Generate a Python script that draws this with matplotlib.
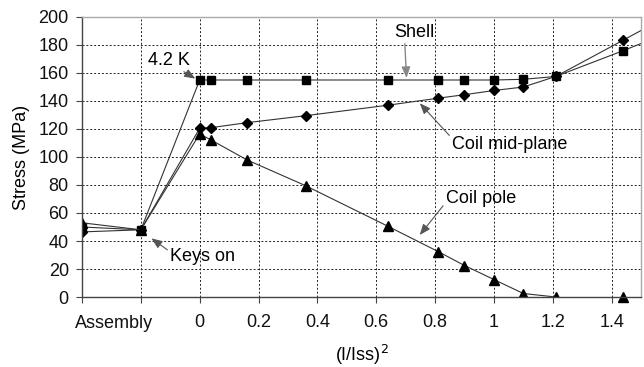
import numpy as np
import matplotlib
matplotlib.use('Agg')
import matplotlib.pyplot as plt

plt.rcParams['font.family'] = ['Liberation Sans', 'DejaVu Sans']

# x positions: -0.4 = assembly, -0.2 = keys on, then (I/Iss)^2
x_vals = [-0.4, -0.2, 0.0, 0.04, 0.16, 0.36, 0.64, 0.81, 0.9, 1.0, 1.1, 1.21, 1.44, 1.69]
shell = [50, 48, 155, 155, 155, 155, 155, 155, 155, 155, 155.5, 157.5, 176, 197]
mid_plane = [46.5, 48, 120.5, 121, 124.5, 129.5, 137, 142, 144.5, 147.5, 150, 157.5, 183.5, 212]
pole_x = [-0.4, -0.2, 0.0, 0.04, 0.16, 0.36, 0.64, 0.81, 0.9, 1.0, 1.1, 1.21]
pole = [53, 48, 116.5, 112, 98, 79.5, 50.5, 32.5, 22.5, 12.5, 2.5, 0]
pole_extra_x = [1.44]
pole_extra = [0]

x_ticks = [-0.4, -0.2, 0, 0.2, 0.4, 0.6, 0.8, 1, 1.2, 1.4]
x_tick_labels = ['', '', '0', '0.2', '0.4', '0.6', '0.8', '1', '1.2', '1.4']
y_ticks = list(range(0, 201, 20))

FS = 13

fig = plt.figure(figsize=(6.44, 3.67), dpi=100)
ax = fig.add_axes([82 / 644, 70 / 367, 559 / 644, 280 / 367])

ax.plot(x_vals, shell, marker='s', ms=6, color='#333333', lw=0.8, mfc='black', mec='black')
ax.plot(x_vals, mid_plane, marker='D', ms=5, color='#333333', lw=0.8, mfc='black', mec='black')
ax.plot(pole_x, pole, marker='^', ms=6.5, color='#333333', lw=0.8, mfc='black', mec='black')
ax.plot(pole_extra_x, pole_extra, marker='^', ms=6.5, ls='none', color='black', clip_on=False)

ax.set_xlim(-0.4, 1.5)
ax.set_ylim(0, 200)
ax.set_xticks(x_ticks)
ax.set_xticklabels(x_tick_labels)
ax.set_yticks(y_ticks)

ax.grid(True, color='#222222', ls=(0, (2, 2)), lw=0.7)
ax.set_axisbelow(True)
for s in ['left', 'bottom']:
    ax.spines[s].set_color('#444444')
    ax.spines[s].set_linewidth(1.0)
for s in ['top', 'right']:
    ax.spines[s].set_color('#aaaaaa')
    ax.spines[s].set_linewidth(1.0)

ax.tick_params(axis='x', length=4.5, width=0.8, color='#444444', pad=8, labelsize=FS, labelcolor='#111111')
ax.tick_params(axis='y', length=4.5, width=0.8, color='#444444', pad=5, labelsize=FS, labelcolor='#111111')

ax.text(-0.29, -0.066, 'Assembly', transform=ax.get_xaxis_transform(), ha='center', va='top',
        fontsize=FS, color='#111111')

ax.set_ylabel('Stress (MPa)', fontsize=FS, labelpad=6)
ax.set_xlabel('(I/Iss)$^2$', fontsize=FS, labelpad=8)

head = '-|>,head_length=0.5,head_width=0.2'
ax.annotate('4.2 K', xy=(-0.015, 156), xytext=(-0.105, 169), fontsize=FS, ha='center', va='center',
            arrowprops=dict(arrowstyle=head, color='#555555', lw=0.8, shrinkA=0, shrinkB=0,
                            relpos=(0.75, 0.0)))
ax.annotate('Shell', xy=(0.703, 156.5), xytext=(0.731, 189), fontsize=FS, ha='center', va='center',
            arrowprops=dict(arrowstyle=head, color='#888888', lw=1.0, shrinkA=0, shrinkB=0,
                            relpos=(0.25, 0.0)))
ax.annotate('Coil mid-plane', xy=(0.748, 138.4), xytext=(1.054, 109), fontsize=FS, ha='center', va='center',
            arrowprops=dict(arrowstyle=head, color='#555555', lw=0.8, shrinkA=0, shrinkB=0,
                            relpos=(0.0, 0.85)))
ax.annotate('Coil pole', xy=(0.748, 44.3), xytext=(0.956, 70), fontsize=FS, ha='center', va='center',
            arrowprops=dict(arrowstyle=head, color='#555555', lw=0.8, shrinkA=0, shrinkB=0,
                            relpos=(0.0, 0.3)))
ax.annotate('Keys on', xy=(-0.164, 41.9), xytext=(0.01, 28.6), fontsize=FS, ha='center', va='center',
            arrowprops=dict(arrowstyle=head, color='#555555', lw=0.8, shrinkA=0, shrinkB=0,
                            relpos=(0.0, 0.8)))

fig.savefig('out.png', dpi=100)
